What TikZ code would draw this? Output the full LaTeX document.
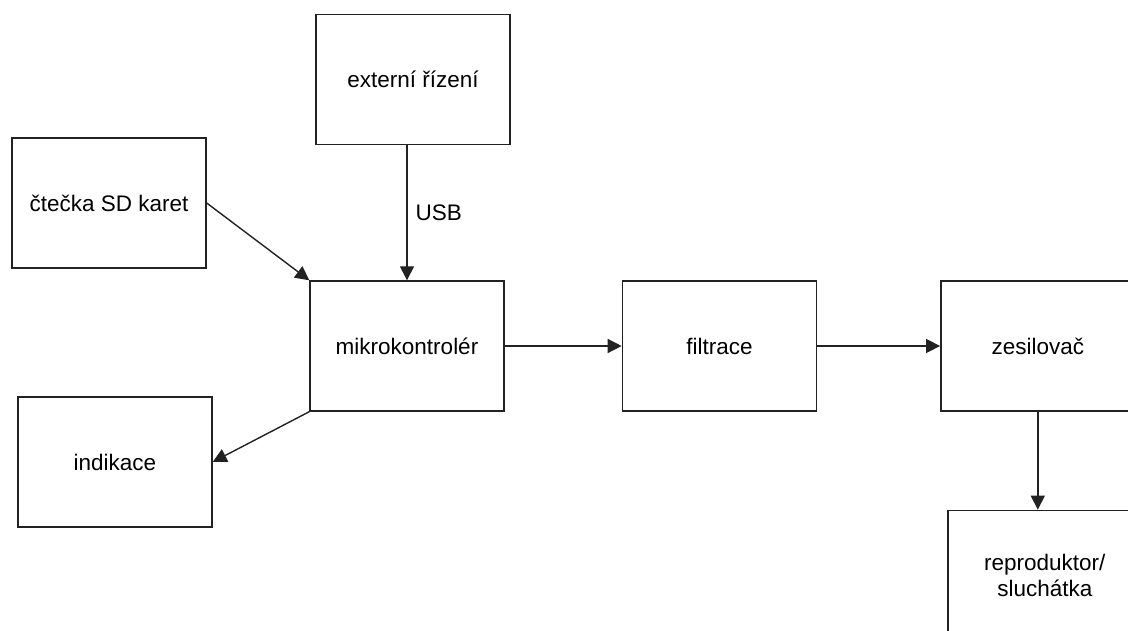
\documentclass[tikz,border=0pt]{standalone}
\usepackage{fontspec}
\setmainfont{Liberation Sans}
\usetikzlibrary{arrows.meta,positioning}
\definecolor{boxline}{RGB}{34,34,34}
\tikzset{
  block/.style={
    draw=boxline,
    line width=1.4pt,
    minimum width=194pt,
    minimum height=130pt,
    align=center,
    font=\fontsize{22.5}{26}\selectfont,
    inner sep=0pt
  },
  lbl/.style={font=\fontsize{22.5}{26}\selectfont, inner sep=0pt},
  arrow/.style={-{Triangle[length=14pt, width=14pt]}, draw=boxline, line width=1.4pt},
}

\begin{document}
\begin{tikzpicture}[x=1pt, y=-1pt]
\useasboundingbox (0,0) rectangle (1128,631);

% Signal chain
\node[block] (mcu) at (407,346) {mikrokontrolér};
\node[block, right=117pt of mcu] (filter) {filtrace};
\node[block, right=123pt of filter] (amp) {zesilovač};
\node[block, below=98pt of amp, xshift=7pt] (speaker) {reproduktor/\\sluchátka};

% Blocks round the microcontroller
\node[block, above=135pt of mcu, xshift=6pt] (ext) {externí řízení};
\node[block] (reader) at (109,203) {čtečka SD karet};
\node[block] (ind) at (115,462) {indikace};

\draw[arrow] (ext.south -| mcu.north) -- (mcu.north) node[lbl, midway, right=8pt] {USB};
\draw[arrow] (reader.east) -- (mcu.north west);
\draw[arrow] (mcu.south west) -- (ind.east);
\draw[arrow] (mcu) -- (filter);
\draw[arrow] (filter) -- (amp);
\draw[arrow] (amp.south) -- (amp.south |- speaker.north);

\end{tikzpicture}
\end{document}
